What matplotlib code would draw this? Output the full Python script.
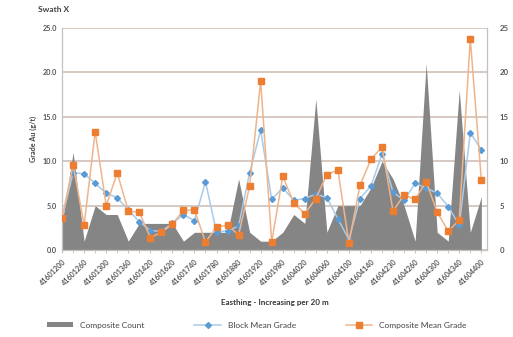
import matplotlib.pyplot as plt
import numpy as np
from matplotlib.patches import Patch
from matplotlib.lines import Line2D

plt.rcParams['font.family'] = ['Lato', 'DejaVu Sans']

# Composite count (secondary axis), one value per 20 m easting step
composite_count = [3, 11, 1, 5, 4, 4, 1, 3, 3, 3, 3, 1, 2, 2, 2, 2, 8, 2, 1, 1,
                   2, 4, 3, 17, 2, 5, 5, 5, 7, 10, 8, 5, 1, 21, 2, 1, 18, 2, 6]

# Block mean grade (g/t)
block_mean = [3.6, 8.7, 8.6, 7.5, 6.4, 5.9, 4.5, 3.2, 2.2, 2.1, 3.0, 4.0, 3.3, 7.7, 2.0, 2.2, 2.7, 8.7, 13.5, 5.7,
              7.0, 5.6, 5.8, 6.3, 5.9, 3.5, 1.2, 5.8, 7.2, 10.8, 6.5, 5.6, 7.5, 7.0, 6.4, 4.9, 2.8, 13.2, 11.3]

# Composite mean grade (g/t)
composite_mean = [3.6, 9.6, 2.8, 13.3, 5.0, 8.7, 4.4, 4.25, 1.4, 2.0, 2.9, 4.5, 4.5, 0.9, 2.6, 2.8, 1.7, 7.2, 19.0, 0.9,
                  8.3, 5.3, 4.1, 5.8, 8.5, 9.0, 0.8, 7.3, 10.2, 11.6, 4.4, 6.2, 5.7, 7.7, 4.3, 2.1, 3.4, 23.8, 7.9]

# Easting labels shown on every second category
tick_labels = ['41601200', '41601260', '41601300', '41601360', '41601420',
               '41601620', '41601740', '41601780', '41601880', '41601920',
               '41601980', '41604020', '41604060', '41604100', '41604140',
               '41604230', '41604260', '41604300', '41604340', '41604400']

x = np.arange(len(composite_mean))

fig = plt.figure(figsize=(5.13, 3.37), dpi=100)
ax = fig.add_axes([0.121, 0.258, 0.828, 0.659])
ax2 = ax.twinx()

# area on the secondary axis, drawn behind the lines
ax2.set_zorder(ax.get_zorder() - 1)
ax.patch.set_visible(False)
ax2.fill_between(x, composite_count, 0, color='#858585', lw=0, zorder=2)
ax2.set_ylim(0, 25)
ax2.set_yticks(np.arange(0, 26, 5))
ax2.set_yticklabels([str(v) for v in range(0, 26, 5)])
ax2.grid(axis='y', color='#d2c5bd', lw=1.3, zorder=0)
ax2.set_axisbelow(True)

ax.plot(x, block_mean, color='#a9cbe8', lw=1.1, marker='D', ms=3.0,
        mfc='#5b9bd5', mec='#5b9bd5', zorder=3)
ax.plot(x, composite_mean, color='#f0b48a', lw=1.1, marker='s', ms=4.2,
        mfc='#ed7d31', mec='#ed7d31', zorder=4)

ax.set_ylim(0, 25)
ax.set_xlim(0, len(x) - 0.5)
ax.set_yticks(np.arange(0, 26, 5))
ax.set_yticklabels(['%.1f' % v for v in range(0, 26, 5)])
ax.set_xticks(x[::2])
ax.set_xticklabels(tick_labels, rotation=45, ha='right', rotation_mode='anchor')
ax.set_xticks(x, minor=True)

for a in (ax, ax2):
    a.spines['top'].set_visible(False)
    for s in ['left', 'right', 'bottom']:
        a.spines[s].set_color('#c8c0bb')
    a.tick_params(axis='both', which='both', length=2, color='#c8c0bb',
                  labelsize=5.2, labelcolor='#555555')
for lab in ax.get_xticklabels() + ax.get_yticklabels() + ax2.get_yticklabels():
    lab.set_fontweight('bold')
ax.tick_params(axis='y', length=0)
ax2.tick_params(axis='y', length=0, pad=9, labelsize=5.6)

ax.set_ylabel('Grade Au (g/t)', fontsize=5.2, fontweight='bold', color='#444444', labelpad=4)
ax.set_xlabel('Easthing - Increasing per 20 m', fontsize=5.8, fontweight='bold',
              color='#333333', labelpad=9)
fig.text(0.075, 0.965, 'Swath X', fontsize=6, fontweight='bold', color='#444444')

handles = [Patch(facecolor='#858585', edgecolor='none'),
           Line2D([], [], color='#a9cbe8', lw=1.1, marker='D', ms=3.0, mfc='#5b9bd5', mec='#5b9bd5'),
           Line2D([], [], color='#f0b48a', lw=1.1, marker='s', ms=4.2, mfc='#ed7d31', mec='#ed7d31')]
fig.legend(handles, ['Composite Count', 'Block Mean Grade', 'Composite Mean Grade'],
           loc='center', bbox_to_anchor=(0.5, 0.035), ncol=3, frameon=False,
           fontsize=6, handlelength=3.2, handleheight=0.5, columnspacing=6,
           labelcolor='#444444')

fig.savefig('out.png', dpi=100)
